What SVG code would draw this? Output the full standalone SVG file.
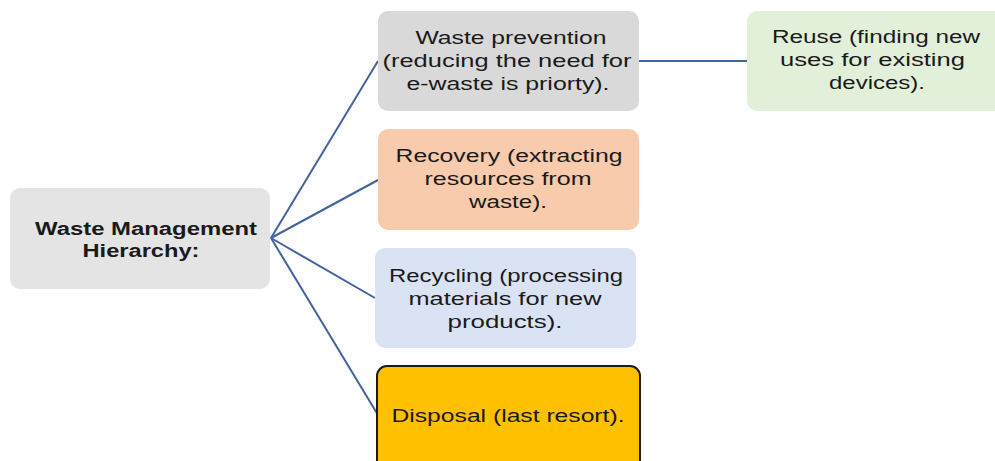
<svg xmlns="http://www.w3.org/2000/svg" width="995" height="461" viewBox="0 0 995 461">
<style>
text{font-family:"Liberation Sans",Arial,sans-serif;font-size:17.5px;fill:#1a1a1a;text-anchor:middle}
.b{font-weight:bold}
.c{stroke:#41639f;stroke-width:2;fill:none}
</style>
<rect width="995" height="461" fill="#ffffff"/>
<g id="connectors">
<line class="c" x1="271" y1="238" x2="378" y2="61"/>
<line class="c" x1="271" y1="238" x2="378" y2="180"/>
<line class="c" x1="271" y1="238" x2="375" y2="298"/>
<line class="c" x1="271" y1="238" x2="378" y2="415"/>
<line class="c" x1="639" y1="61" x2="747" y2="61"/>
</g>
<g id="root">
<rect x="10" y="188" width="260" height="101" rx="10" fill="#e4e4e4"/>
<text class="b" x="146" y="235" textLength="222" lengthAdjust="spacingAndGlyphs">Waste Management</text>
<text class="b" x="141" y="257" textLength="117" lengthAdjust="spacingAndGlyphs">Hierarchy:</text>
</g>
<g id="prevention">
<rect x="378" y="11" width="261" height="100" rx="10" fill="#d9d9d9"/>
<text x="511" y="44" textLength="191" lengthAdjust="spacingAndGlyphs">Waste prevention</text>
<text x="507" y="67" textLength="249" lengthAdjust="spacingAndGlyphs">(reducing the need for</text>
<text x="508" y="90" textLength="203" lengthAdjust="spacingAndGlyphs">e-waste is priorty).</text>
</g>
<g id="reuse">
<rect x="747" y="11" width="258" height="100" rx="10" fill="#e2f0d9"/>
<text x="876" y="43" textLength="208" lengthAdjust="spacingAndGlyphs">Reuse (finding new</text>
<text x="872.5" y="66" textLength="185" lengthAdjust="spacingAndGlyphs">uses for existing</text>
<text x="877" y="89" textLength="96" lengthAdjust="spacingAndGlyphs">devices).</text>
</g>
<g id="recovery">
<rect x="378" y="129" width="261" height="101" rx="10" fill="#f8cbad"/>
<text x="509" y="162" textLength="227" lengthAdjust="spacingAndGlyphs">Recovery (extracting</text>
<text x="508" y="185" textLength="167" lengthAdjust="spacingAndGlyphs">resources from</text>
<text x="508" y="208" textLength="78" lengthAdjust="spacingAndGlyphs">waste).</text>
</g>
<g id="recycling">
<rect x="375" y="248" width="261" height="100" rx="10" fill="#dae3f3"/>
<text x="506" y="282" textLength="234" lengthAdjust="spacingAndGlyphs">Recycling (processing</text>
<text x="505" y="305" textLength="193" lengthAdjust="spacingAndGlyphs">materials for new</text>
<text x="505" y="328" textLength="115" lengthAdjust="spacingAndGlyphs">products).</text>
</g>
<g id="disposal">
<rect x="377" y="366" width="263" height="110" rx="10" fill="#ffc000" stroke="#1a1a1a" stroke-width="2"/>
<text x="508" y="422" textLength="233" lengthAdjust="spacingAndGlyphs">Disposal (last resort).</text>
</g>
</svg>
